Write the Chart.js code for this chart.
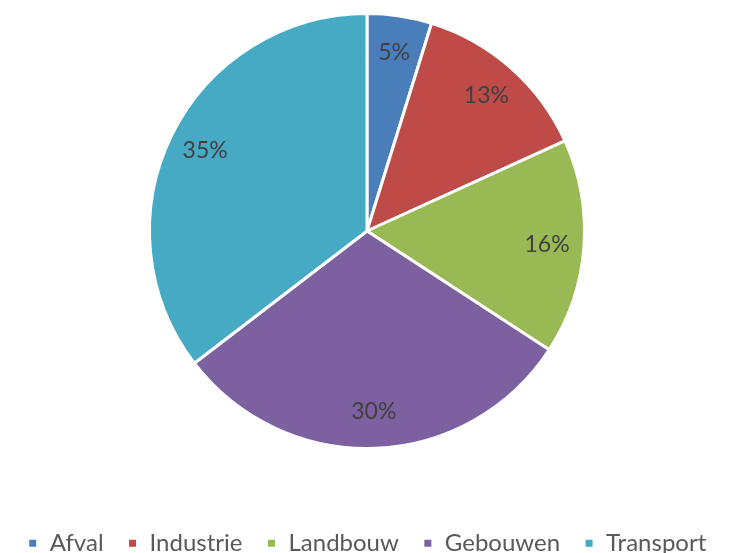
<!DOCTYPE html>
<html>
<head>
<meta charset="utf-8">
<script src="https://cdn.jsdelivr.net/npm/chart.js@4/dist/chart.umd.min.js"></script>
<style>
  html, body { margin: 0; padding: 0; background: #fff; }
  #wrap { width: 734px; height: 553px; }
</style>
</head>
<body>
<div id="wrap"><canvas id="myChart"></canvas></div>
<script>
(() => {
  'use strict'

  const categories = ['Afval', 'Industrie', 'Landbouw', 'Gebouwen', 'Transport']
  const shares = [4.8, 13.4, 16.0, 30.4, 35.4]
  const colors = ['#4A7EBB', '#BE4B48', '#98B954', '#7D60A0', '#46AAC5']

  // percentage labels inside the slices
  const sliceLabels = {
    id: 'sliceLabels',
    afterDatasetsDraw (chart) {
      const { ctx } = chart
      const total = shares.reduce((a, b) => a + b, 0)
      const arcs = chart.getDatasetMeta(0).data
      ctx.save()
      ctx.font = '23px Lato'
      ctx.fillStyle = '#404040'
      ctx.textAlign = 'center'
      ctx.textBaseline = 'middle'
      arcs.forEach((arc, i) => {
        const p = arc.getProps(['x', 'y', 'startAngle', 'endAngle', 'outerRadius'], true)
        const mid = (p.startAngle + p.endAngle) / 2
        const r = p.outerRadius * 0.83
        ctx.fillText(Math.round(shares[i] / total * 100) + '%', p.x + Math.cos(mid) * r, p.y + Math.sin(mid) * r)
      })
      ctx.restore()
    }
  }

  // fixed legend height so the pie keeps its size
  const legendHeight = {
    id: 'legendHeight',
    beforeInit (chart) {
      const fit = chart.legend.fit
      chart.legend.fit = function () {
        fit.call(this)
        this.height = 103
      }
    }
  }

  const ctx = document.getElementById('myChart')
  // eslint-disable-next-line no-unused-vars
  const myChart = new Chart(ctx, {
    type: 'pie',
    data: {
      labels: categories,
      datasets: [{
        data: shares,
        backgroundColor: colors,
        borderColor: '#ffffff',
        borderWidth: 3
      }]
    },
    options: {
      responsive: true,
      maintainAspectRatio: false,
      animation: false,
      layout: {
        padding: { top: 12, bottom: 0 }
      },
      plugins: {
        legend: {
          position: 'bottom',
          title: {
            display: true,
            text: ' ',
            font: { size: 1 },
            padding: { top: 0, bottom: 56 }
          },
          labels: {
            boxWidth: 10,
            boxHeight: 10,
            padding: 24,
            color: '#595959',
            font: { family: 'Lato', size: 24 }
          }
        },
        tooltip: { enabled: false }
      }
    },
    plugins: [sliceLabels, legendHeight]
  })
})()
</script>
</body>
</html>
